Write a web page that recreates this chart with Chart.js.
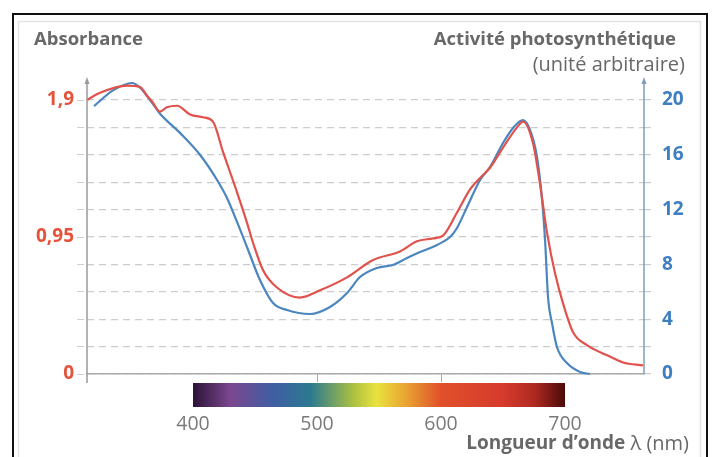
<!DOCTYPE html>
<html>
<head>
<meta charset="utf-8">
<script src="https://cdn.jsdelivr.net/npm/chart.js@4.4.1/dist/chart.umd.min.js"></script>
<style>
  html, body { margin: 0; padding: 0; background: #fff; }
  #wrap { width: 714px; height: 457px; }
</style>
</head>
<body>
<div id="wrap"><canvas id="chart" width="714" height="457"></canvas></div>
<script>
// --- data ---
// absorbance spectrum (left axis)
const lambdaAbs = [314.5, 325, 346.8, 357.3, 362.9, 367, 373.4, 379, 387.1, 397.6, 408.1, 416.1, 424.2, 435.5, 443.5, 448.4, 456.5, 467.7, 486.3, 502.4, 524.2, 545.2, 566.9, 580.6, 593.5, 601.6, 612.9, 623.4, 631.5, 639.5, 650, 661.3, 666.1, 674.2, 679.8, 685.5, 691.9, 698.4, 706.5, 717.7, 733.9, 746.8, 762.9];
const absorbance = [1.90, 1.95, 2.00, 1.99, 1.93, 1.89, 1.82, 1.85, 1.86, 1.80, 1.78, 1.75, 1.54, 1.26, 1.05, 0.91, 0.72, 0.60, 0.53, 0.58, 0.67, 0.79, 0.85, 0.92, 0.94, 0.96, 1.12, 1.28, 1.36, 1.43, 1.57, 1.71, 1.75, 1.60, 1.32, 0.98, 0.70, 0.49, 0.29, 0.20, 0.13, 0.08, 0.06];

// action spectrum (right axis)
const lambdaAct = [320.2, 335.5, 350.8, 357.3, 365.3, 373.4, 389.5, 405.6, 419.4, 427.4, 435.5, 443.5, 454, 464.5, 475.8, 494.4, 510.5, 524.2, 534.7, 548.4, 561.3, 572.6, 583.1, 596.8, 607.3, 612.9, 621, 631.5, 639.5, 650, 658.1, 666.1, 671.8, 677.4, 681.5, 683.9, 686.3, 689.5, 693.5, 701.6, 712.1, 720.2];
const activity = [19.56, 20.7, 21.24, 20.9, 20.0, 19.0, 17.6, 16.0, 14.16, 12.85, 11.1, 9.27, 6.86, 5.18, 4.67, 4.38, 4.89, 5.91, 7.08, 7.74, 7.96, 8.47, 8.9, 9.42, 10.0, 10.66, 12.19, 14.16, 15.1, 16.86, 17.96, 18.54, 17.81, 15.84, 12.7, 9.78, 5.62, 3.72, 1.97, 0.8, 0.15, 0];

const xTicks = [400, 500, 600, 700];
const absLabels = [0, 0.95, 1.9];
const actLabels = [0, 4, 8, 12, 16, 20];
const actGrid = [0, 2, 4, 6, 8, 10, 12, 14, 16, 18, 20];

const FONT = '"Open Sans", "Noto Sans", sans-serif';
const RED = '#e0524b';
const BLUE = '#4b86bf';

// spectrum colour bar stops (nm -> colour)
const barStops = [
  [400, '#2b1236'], [430, '#7b4790'], [465, '#3f5ea2'], [495, '#2c7a90'],
  [530, '#aec23f'], [548, '#e9e23f'], [572, '#e9a332'], [600, '#e0502a'],
  [650, '#d63a2c'], [675, '#b02a20'], [700, '#4a0a0a']
];

const decor = {
  id: 'decor',
  beforeDraw(chart) {
    const ctx = chart.ctx;
    ctx.save();
    ctx.fillStyle = '#fff';
    ctx.fillRect(0, 0, chart.width, chart.height);
    ctx.strokeStyle = '#e3e3e3';
    ctx.lineWidth = 1.5;
    ctx.strokeRect(18.5, 21.5, 682, 460);
    ctx.strokeStyle = '#111';
    ctx.lineWidth = 2;
    ctx.strokeRect(13, 14, 694, 470);
    ctx.restore();
  },
  afterDraw(chart) {
    const ctx = chart.ctx;
    const x = chart.scales.x;
    const area = chart.chartArea;
    ctx.save();

    // colour bar
    const x0 = x.getPixelForValue(400), x1 = x.getPixelForValue(700);
    const g = ctx.createLinearGradient(x0, 0, x1, 0);
    barStops.forEach(([nm, c]) => g.addColorStop((nm - 400) / 300, c));
    ctx.fillStyle = g;
    ctx.fillRect(x0, area.bottom + 9, x1 - x0, 24);

    // y axes with arrows
    const arrow = (px, yBottom, color) => {
      ctx.strokeStyle = color;
      ctx.fillStyle = color;
      ctx.lineWidth = 1.5;
      ctx.beginPath();
      ctx.moveTo(px, yBottom);
      ctx.lineTo(px, 82);
      ctx.stroke();
      ctx.beginPath();
      ctx.moveTo(px, 77);
      ctx.lineTo(px - 2.5, 84);
      ctx.lineTo(px + 2.5, 84);
      ctx.closePath();
      ctx.fill();
    };
    arrow(area.left, area.bottom + 9, '#9a9a9a');
    arrow(area.right, area.bottom, '#7f9cbb');

    // titles
    ctx.fillStyle = '#686868';
    ctx.textBaseline = 'middle';
    ctx.font = 'bold 18.5px ' + FONT;
    ctx.textAlign = 'left';
    ctx.fillText('Absorbance', 34, 40);
    ctx.textAlign = 'right';
    ctx.fillText('Activité photosynthétique', 676, 40);
    ctx.font = '20px ' + FONT;
    ctx.fillText('(unité arbitraire)', 685, 65);

    ctx.font = '20px ' + FONT;
    const tail = ' λ (nm)';
    const wTail = ctx.measureText(tail).width;
    ctx.fillText(tail, 689, 444);
    ctx.font = 'bold 19px ' + FONT;
    ctx.fillText('Longueur d’onde', 689 - wTail, 444);
    ctx.restore();
  }
};

new Chart(document.getElementById('chart'), {
  type: 'line',
  data: {
    datasets: [
      {
        label: 'Absorbance',
        data: lambdaAbs.map((l, i) => ({ x: l, y: absorbance[i] })),
        yAxisID: 'yA',
        borderColor: RED,
        borderWidth: 2.2,
        pointRadius: 0,
        cubicInterpolationMode: 'monotone',
        clip: false
      },
      {
        label: 'Activité photosynthétique',
        data: lambdaAct.map((l, i) => ({ x: l, y: activity[i] })),
        yAxisID: 'yP',
        borderColor: BLUE,
        borderWidth: 2.2,
        pointRadius: 0,
        cubicInterpolationMode: 'monotone',
        clip: false
      }
    ]
  },
  options: {
    responsive: false,
    animation: false,
    layout: { padding: { top: 100, left: 0, right: 0, bottom: 0 } },
    plugins: { legend: { display: false }, tooltip: { enabled: false } },
    scales: {
      x: {
        type: 'linear',
        min: 314.5,
        max: 763.7,
        afterBuildTicks: s => { s.ticks = xTicks.map(v => ({ value: v })); },
        afterFit: s => { s.height = 83; },
        grid: {
          drawOnChartArea: false,
          tickLength: 8,
          tickColor: c => (c.tick && (c.tick.value === 500 || c.tick.value === 600)) ? '#aaa' : 'rgba(0,0,0,0)'
        },
        border: { color: '#aaa', width: 1.5 },
        ticks: { color: '#7a7a7a', font: { size: 19.5, family: FONT }, padding: 31, maxRotation: 0 }
      },
      yA: {
        position: 'left',
        min: 0,
        max: 1.9,
        afterBuildTicks: s => { s.ticks = actGrid.map(v => ({ value: v * 0.095 })); },
        afterFit: s => { s.width = 87; },
        grid: { drawOnChartArea: false, tickLength: 10, tickColor: '#cfcfcf', tickBorderDash: [7, 5] },
        border: { display: false },
        ticks: {
          color: '#e4533b',
          font: { size: 19, weight: 'bold', family: FONT },
          padding: 3,
          callback: v => {
            const hit = absLabels.find(a => Math.abs(a - v) < 1e-6);
            return hit === undefined ? '' : String(hit).replace('.', ',');
          }
        }
      },
      yP: {
        position: 'right',
        min: 0,
        max: 20,
        afterBuildTicks: s => { s.ticks = actGrid.map(v => ({ value: v })); },
        afterFit: s => { s.width = 70; },
        grid: { color: '#cccccc', lineWidth: 1.2, tickLength: 8, tickColor: '#cccccc', tickBorderDash: [7, 5] },
        border: { display: false, dash: [7, 5] },
        ticks: {
          color: '#3f7fc1',
          font: { size: 19, weight: 'bold', family: FONT },
          padding: 10,
          callback: v => actLabels.includes(v) ? String(v) : ''
        }
      }
    }
  },
  plugins: [decor]
});
</script>
</body>
</html>
